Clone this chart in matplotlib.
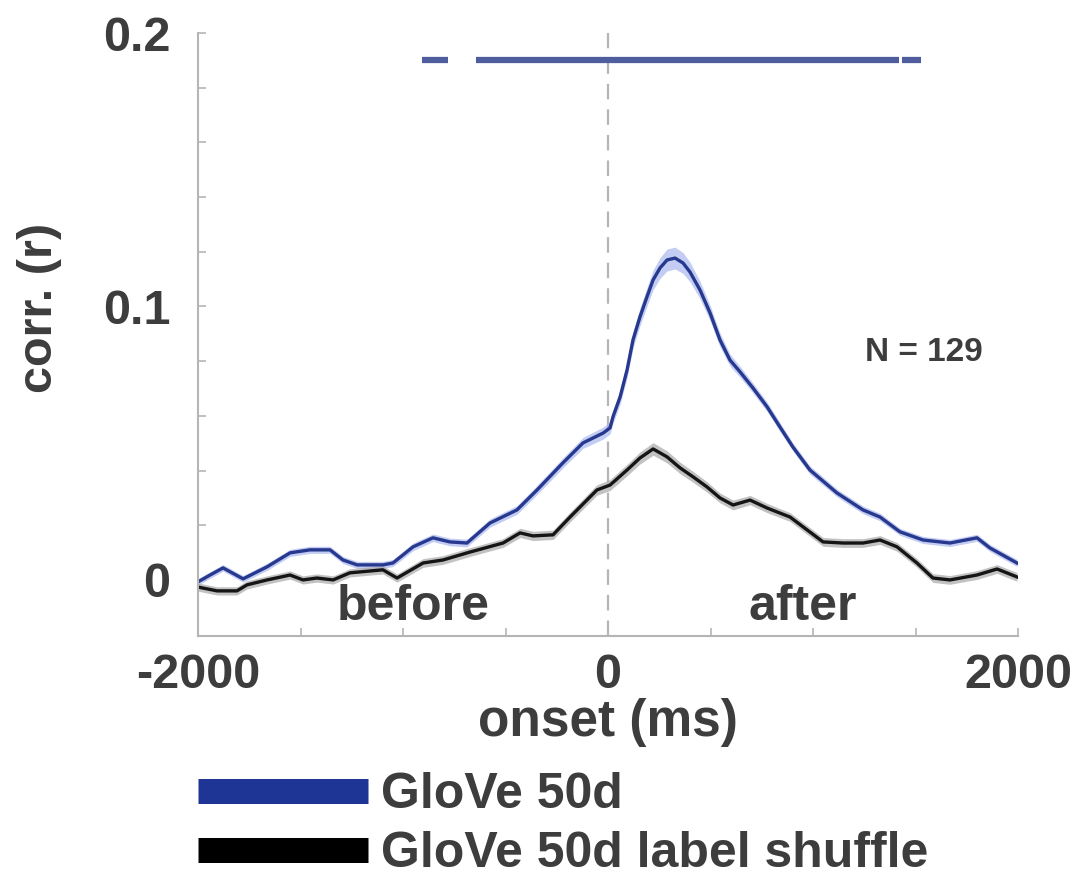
import numpy as np
import matplotlib
matplotlib.use('Agg')
import matplotlib.pyplot as plt
from matplotlib.lines import Line2D

plt.rcParams['font.family'] = ['Liberation Sans', 'DejaVu Sans']

# GloVe 50d (ms, r, sem)
glove_t = [-2000, -1941, -1878, -1780, -1663, -1551, -1454, -1356, -1293, -1224,
           -1098, -1049, -951, -854, -771, -688, -576, -444, -346, -220,
           -122, -24, 10, 24, 59, 93, 122, 156, 190, 220,
           254, 288, 327, 366, 400, 449, 498, 546, 595, 644,
           707, 776, 839, 902, 985, 1117, 1244, 1327, 1424, 1537,
           1668, 1800, 1863, 1995]
glove_r = [-0.0007, 0.0018, 0.0044, 0.0004, 0.0048, 0.0099, 0.0110, 0.0110, 0.0073, 0.0055,
           0.0055, 0.0062, 0.0121, 0.0154, 0.0139, 0.0135, 0.0208, 0.0256, 0.0329, 0.0428,
           0.0501, 0.0537, 0.0556, 0.0596, 0.0669, 0.0768, 0.0878, 0.0962, 0.1035, 0.1097,
           0.1141, 0.1170, 0.1177, 0.1159, 0.1126, 0.1060, 0.0976, 0.0878, 0.0804, 0.0761,
           0.0702, 0.0633, 0.0559, 0.0486, 0.0402, 0.0318, 0.0256, 0.0230, 0.0176, 0.0146,
           0.0135, 0.0154, 0.0117, 0.0062]
glove_sem = [0.0012, 0.0012, 0.0012, 0.0012, 0.0013, 0.0013, 0.0013, 0.0013, 0.0013, 0.0013,
             0.0013, 0.0013, 0.0014, 0.0014, 0.0014, 0.0014, 0.0015, 0.0016, 0.0017, 0.0018,
             0.0020, 0.0022, 0.0022, 0.0024, 0.0026, 0.0028, 0.0030, 0.0032, 0.0034, 0.0036,
             0.0038, 0.0040, 0.0040, 0.0038, 0.0036, 0.0032, 0.0028, 0.0025, 0.0022, 0.0020,
             0.0018, 0.0017, 0.0016, 0.0015, 0.0015, 0.0014, 0.0014, 0.0014, 0.0013, 0.0013,
             0.0013, 0.0013, 0.0013, 0.0013]

# label shuffle control
shuf_t = [-2000, -1907, -1810, -1761, -1663, -1551, -1488, -1420, -1341, -1259,
          -1098, -1029, -902, -805, -673, -512, -429, -366, -268, -185,
          -54, 10, 93, 156, 220, 288, 351, 415, 483, 546,
          610, 693, 776, 888, 1049, 1146, 1244, 1327, 1410, 1507,
          1585, 1668, 1800, 1898, 1995]
shuf_r = [-0.0026, -0.0040, -0.0040, -0.0018, 0.0000, 0.0018, 0.0000, 0.0007, 0.0000, 0.0026,
          0.0037, 0.0007, 0.0062, 0.0073, 0.0102, 0.0135, 0.0172, 0.0161, 0.0165, 0.0230,
          0.0329, 0.0347, 0.0402, 0.0446, 0.0479, 0.0450, 0.0410, 0.0377, 0.0340, 0.0300,
          0.0274, 0.0292, 0.0263, 0.0230, 0.0139, 0.0135, 0.0135, 0.0146, 0.0121, 0.0062,
          0.0007, 0.0000, 0.0018, 0.0040, 0.0011]
shuf_sem = [0.0015, 0.0015, 0.0015, 0.0015, 0.0015, 0.0015, 0.0015, 0.0015, 0.0015, 0.0015,
            0.0015, 0.0015, 0.0016, 0.0016, 0.0016, 0.0016, 0.0017, 0.0017, 0.0017, 0.0018,
            0.0019, 0.0020, 0.0021, 0.0022, 0.0023, 0.0022, 0.0021, 0.0020, 0.0019, 0.0018,
            0.0018, 0.0017, 0.0017, 0.0016, 0.0016, 0.0016, 0.0016, 0.0016, 0.0016, 0.0016,
            0.0016, 0.0016, 0.0016, 0.0016, 0.0016]

# significant time windows (ms)
sig_start = [-907, -644, 1434]
sig_end = [-780, 1420, 1527]
sig_level = 0.19

blue = '#27388f'
txt = '#3d3d3d'
gray = '#b5b5b5'

fig = plt.figure(figsize=(10.78, 8.8), dpi=100)
ax = fig.add_axes([198/1078, 1 - 636/880, 820/1078, (636-33)/880])

lo = np.array(glove_r) - np.array(glove_sem)
hi = np.array(glove_r) + np.array(glove_sem)
ax.fill_between(glove_t, lo, hi, color='#aab8ee', alpha=0.7, lw=0)
lo = np.array(shuf_r) - np.array(shuf_sem)
hi = np.array(shuf_r) + np.array(shuf_sem)
ax.fill_between(shuf_t, lo, hi, color='#a8a8a8', alpha=0.7, lw=0)

ax.plot(shuf_t, shuf_r, color='#151515', lw=2.4, solid_joinstyle='round')
ax.plot(glove_t, glove_r, color=blue, lw=2.4, solid_joinstyle='round')

for a, b in zip(sig_start, sig_end):
    ax.plot([a, b], [sig_level, sig_level], color='#4f5c9e', lw=4.5, solid_capstyle='butt')

vl = ax.axvline(0, color=gray, lw=1.6, zorder=0)
vl.set_dashes((7, 4.5))

ax.set_xlim(-2000, 2000)
ax.set_ylim(-0.0205, 0.2)
ax.set_xticks(np.arange(-2000, 2001, 500))
ax.set_xticklabels(['-2000', '', '', '', '0', '', '', '', '2000'])
ax.set_yticks(np.arange(0, 0.2001, 0.02))
ax.set_yticklabels(['0', '', '', '', '', '0.1', '', '', '', '', '0.2'])

for s in ['top', 'right']:
    ax.spines[s].set_visible(False)
for s in ['left', 'bottom']:
    ax.spines[s].set_color(gray)
    ax.spines[s].set_linewidth(1.5)
ax.tick_params(direction='in', length=6, width=1.2, color=gray, labelcolor=txt)
ax.tick_params(axis='x', pad=12, labelsize=35)
ax.tick_params(axis='y', pad=20, labelsize=35)
for lab in ax.get_xticklabels() + ax.get_yticklabels():
    lab.set_fontweight('bold')

ax.set_xlabel('onset (ms)', fontsize=37, fontweight='bold', color=txt, labelpad=0)
ax.set_ylabel('corr. (r)', fontsize=35, fontweight='bold', color=txt)
ax.yaxis.set_label_coords(-0.166, 0.544)

ax.text(-950, -0.01, 'before', fontsize=36, fontweight='bold', color=txt, ha='center', va='center')
ax.text(950, -0.01, 'after', fontsize=36, fontweight='bold', color=txt, ha='center', va='center')
ax.text(1540, 0.083, 'N = 129', fontsize=24, fontweight='bold', color=txt, ha='center', va='center')

handles = [Line2D([], [], color='#1f3595', lw=18, solid_capstyle='butt'),
           Line2D([], [], color='black', lw=18, solid_capstyle='butt')]
leg = fig.legend(handles, ['GloVe 50d', 'GloVe 50d label shuffle'],
                 loc='upper left', bbox_to_anchor=(198/1078, 1 - 772/880),
                 frameon=False, fontsize=36, handlelength=3.4, handletextpad=0.26,
                 borderpad=0, borderaxespad=0, labelspacing=0.26)
for t in leg.get_texts():
    t.set_color(txt)
    t.set_fontweight('bold')

fig.savefig('out.png', dpi=100)
